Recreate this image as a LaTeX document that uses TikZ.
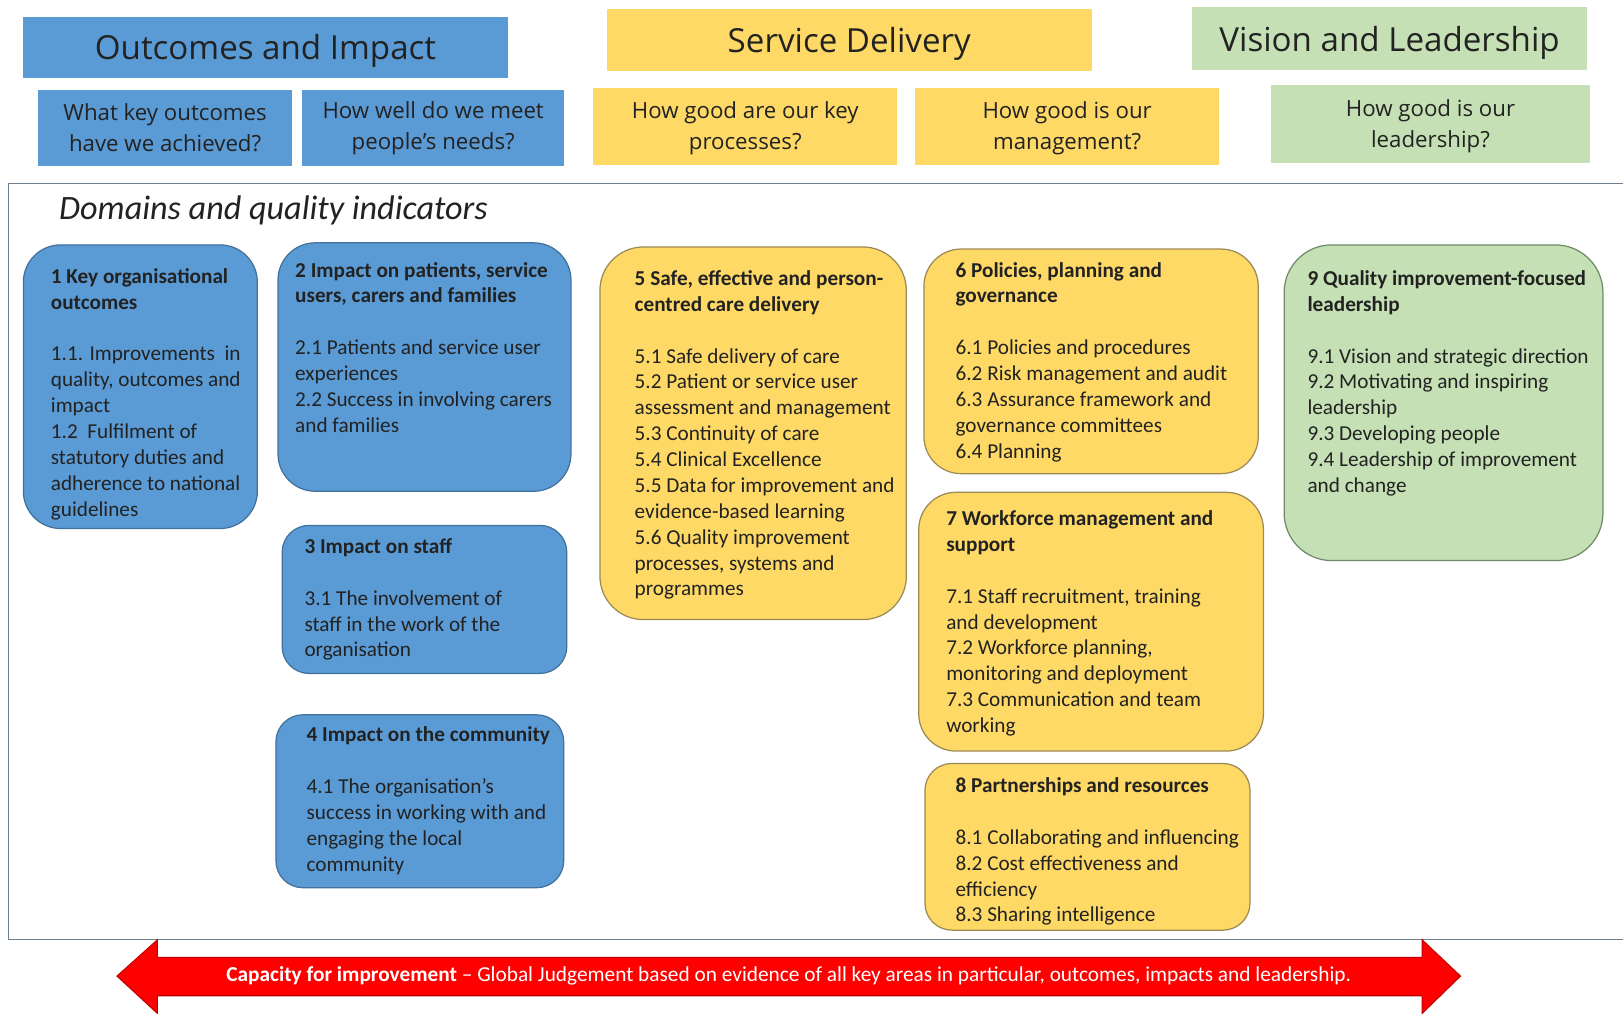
\documentclass[tikz,border=0pt]{standalone}
\usepackage{fontspec}
\setmainfont{Carlito}
\newfontfamily\hdfont{Open Sans}
\definecolor{oblue}{HTML}{5B9BD5}
\definecolor{oblueb}{HTML}{41719C}
\definecolor{oyel}{HTML}{FFD966}
\definecolor{oyelb}{HTML}{9C8A55}
\definecolor{ogrn}{HTML}{C5E0B4}
\definecolor{ogrnb}{HTML}{6F8C6A}
\definecolor{txt}{HTML}{222222}
\definecolor{framec}{HTML}{6E7F8F}
\definecolor{arrred}{HTML}{FF0000}
\definecolor{arrredb}{HTML}{C00000}
\tikzset{
  hdr/.style={inner sep=0, font=\hdfont\fontsize{32}{38}\selectfont, text=txt, anchor=center},
  qbox/.style={inner sep=0, align=center, font=\hdfont\fontsize{21.5}{30}\selectfont, text=txt},
  dombox/.style={rounded corners=#1, line width=1.2pt, anchor=north west, inner sep=0},
  bluebox/.style={dombox=#1, fill=oblue, draw=oblueb},
  yelbox/.style={dombox=#1, fill=oyel, draw=oyelb},
  grnbox/.style={dombox=#1, fill=ogrn, draw=ogrnb},
  dtxt/.style={anchor=north west, inner sep=0, align=left, yshift=-2.5pt, font=\fontsize{20.5}{25}\selectfont, text=txt}
}
\newcommand\blk{\\[25pt]}
\begin{document}
\begin{tikzpicture}[x=1pt,y=-1pt]
\useasboundingbox (0,0) rectangle (1568,979);
\clip (0,0) rectangle (1568,979);
\fill[white] (0,0) rectangle (1568,979);
% headers
\node[hdr, fill=oblue, minimum width=469, minimum height=59] (h1) at (256.5,45.5) {};
\node[hdr, fill=oyel, minimum width=469, minimum height=60] (h2) at (820.5,39) {};
\node[hdr, fill=ogrn, minimum width=381, minimum height=61] (h3) at (1342.5,37.5) {};
\node[hdr, yshift=-3.5pt] (h1t) at (h1) {Outcomes and Impact};
\node[hdr, yshift=-3.5pt] (h2t) at (h2) {Service Delivery};
\node[hdr, yshift=-3.5pt] (h3t) at (h3) {Vision and Leadership};
% questions
\node[qbox, fill=oblue, minimum width=245, minimum height=73] (q1) at (159.5,123.5) {};
\node[qbox, fill=oblue, minimum width=253, minimum height=73] (q2) at (418.5,123.5) {};
\node[qbox, fill=oyel, minimum width=294, minimum height=74] (q3) at (720,122) {};
\node[qbox, fill=oyel, minimum width=294, minimum height=74] (q4) at (1031,122) {};
\node[qbox, fill=ogrn, minimum width=308, minimum height=75] (q5) at (1382,119.5) {};
\node[qbox] (q1t) at (q1) {What key outcomes\\have we achieved?};
\node[qbox] (q2t) at (q2) {How well do we meet\\people’s needs?};
\node[qbox, yshift=-2pt] (q3t) at (q3) {How good are our key\\processes?};
\node[qbox, yshift=-2pt] (q4t) at (q4) {How good is our\\management?};
\node[qbox, yshift=-2pt] (q5t) at (q5) {How good is our\\leadership?};
% frame
\draw[framec, line width=1.2pt, fill=white] (8,177) rectangle (1600,908);
\node[anchor=base west, inner sep=0, font=\itshape\fontsize{33}{39}\selectfont, text=txt] (dom) at (57,212) {Domains and quality indicators};
% domain boxes
\node[bluebox=36, minimum width=226, minimum height=274] (b1) at (22,236) {};
\node[bluebox=36, minimum width=283, minimum height=240] (b2) at (268,234) {};
\node[bluebox=26, minimum width=275, minimum height=143] (b3) at (272,507) {};
\node[bluebox=26, minimum width=278, minimum height=167] (b4) at (266,690) {};
\node[yelbox=42, minimum width=296, minimum height=360] (b5) at (579,238) {};
\node[yelbox=36, minimum width=323, minimum height=217] (b6) at (892,240) {};
\node[yelbox=36, minimum width=333, minimum height=250] (b7) at (887,475) {};
\node[yelbox=26, minimum width=314, minimum height=161] (b8) at (893,737) {};
\node[grnbox=46, minimum width=308, minimum height=305] (b9) at (1240,236) {};
% texts
\node[dtxt] (t1) at (49,253.5) {\strut\textbf{1 Key organisational}\\\textbf{outcomes}\blk
1.1. Improvements\ \ in\\quality, outcomes and\\impact\\1.2\ \ Fulfilment of\\statutory duties and\\adherence to national\\guidelines};
\node[dtxt] (t2) at (285,247.5) {\strut\textbf{2 Impact on patients, service}\\\textbf{users, carers and families}\blk
2.1 Patients and service user\\experiences\\2.2 Success in involving carers\\and families};
\node[dtxt] (t3) at (294,514.5) {\strut\textbf{3 Impact on staff}\blk
3.1 The involvement of\\staff in the work of the\\organisation};
\node[dtxt] (t4) at (296,696.5) {\strut\textbf{4 Impact on the community}\blk
4.1 The organisation’s\\success in working with and\\engaging the local\\community};
\node[dtxt] (t5) at (613,255.5) {\strut\textbf{5 Safe, effective and person-}\\\textbf{centred care delivery}\blk
5.1 Safe delivery of care\\5.2 Patient or service user\\assessment and management\\5.3 Continuity of care\\5.4 Clinical Excellence\\5.5 Data for improvement and\\evidence-based learning\\5.6 Quality improvement\\processes, systems and\\programmes};
\node[dtxt] (t6) at (923,247.5) {\strut\textbf{6 Policies, planning and}\\\textbf{governance}\blk
6.1 Policies and procedures\\6.2 Risk management and audit\\6.3 Assurance framework and\\governance committees\\6.4 Planning};
\node[dtxt] (t7) at (914,487.5) {\strut\textbf{7 Workforce management and}\\\textbf{support}\blk
7.1 Staff recruitment, training\\and development\\7.2 Workforce planning,\\monitoring and deployment\\7.3 Communication and team\\working};
\node[dtxt] (t8) at (923,745.5) {\strut\textbf{8 Partnerships and resources}\blk
8.1 Collaborating and influencing\\8.2 Cost effectiveness and\\efficiency\\8.3 Sharing intelligence};
\node[dtxt] (t9) at (1263,255.5) {\strut\textbf{9 Quality improvement-focused}\\\textbf{leadership}\blk
9.1 Vision and strategic direction\\9.2 Motivating and inspiring\\leadership\\9.3 Developing people\\9.4 Leadership of improvement\\and change};
% arrow
\draw[fill=arrred, draw=arrredb, line width=1pt, line join=miter]
  (113,943) -- (152,908) -- (152,925) -- (1374,925) -- (1374,908) -- (1411,943)
  -- (1374,979) -- (1374,962) -- (152,962) -- (152,979) -- cycle;
\node[inner sep=0, font=\fontsize{20.6}{24}\selectfont, text=white] (cap) at (762,943)
  {\textbf{Capacity for improvement} – Global Judgement based on evidence of all key areas in particular, outcomes, impacts and leadership.};
\end{tikzpicture}
\end{document}
